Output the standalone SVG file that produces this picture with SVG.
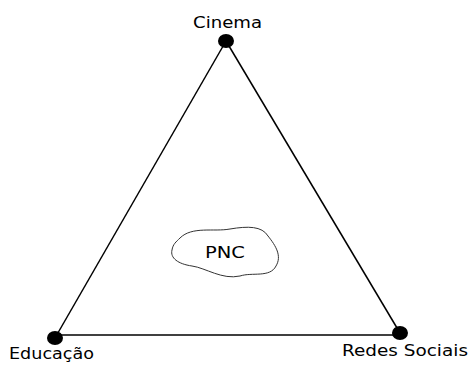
<svg xmlns="http://www.w3.org/2000/svg" width="470" height="365" viewBox="0 0 470 365">
<style>
.lbl{font-family:"DejaVu Sans",sans-serif;font-size:15px;fill:#000}
.edge{stroke:#000;stroke-width:1.5;fill:none}
.dot{fill:#000}
</style>
<rect width="470" height="365" fill="#fff"/>
<g id="connectors">
<line class="edge" x1="226" y1="41" x2="55" y2="338"/>
<line class="edge" x1="226" y1="41" x2="400" y2="333"/>
<line class="edge" x1="55" y1="335" x2="400" y2="335"/>
</g>
<g id="cinema">
<ellipse class="dot" cx="226" cy="41" rx="8" ry="7"/>
<text class="lbl" x="193" y="28" textLength="69" lengthAdjust="spacingAndGlyphs">Cinema</text>
</g>
<g id="educacao">
<ellipse class="dot" cx="55" cy="338" rx="8" ry="7"/>
<text class="lbl" x="9" y="359" textLength="85" lengthAdjust="spacingAndGlyphs">Educação</text>
</g>
<g id="redes">
<ellipse class="dot" cx="400" cy="333" rx="8" ry="7"/>
<text class="lbl" x="342" y="356" textLength="126" lengthAdjust="spacingAndGlyphs">Redes Sociais</text>
</g>
<g id="pnc">
<path d="M180,238 C192,226 214,232 230,229 C248,226 262,226 268,236 C276,246 282,256 276,266 C270,278 252,272 240,276 C222,280 206,268 192,266 C178,264 170,258 172,250 C173,244 176,242 180,238 Z" fill="#fff" stroke="#333" stroke-width="1"/>
<text class="lbl" x="205" y="258" textLength="40" lengthAdjust="spacingAndGlyphs" font-size="16">PNC</text>
</g>
</svg>
